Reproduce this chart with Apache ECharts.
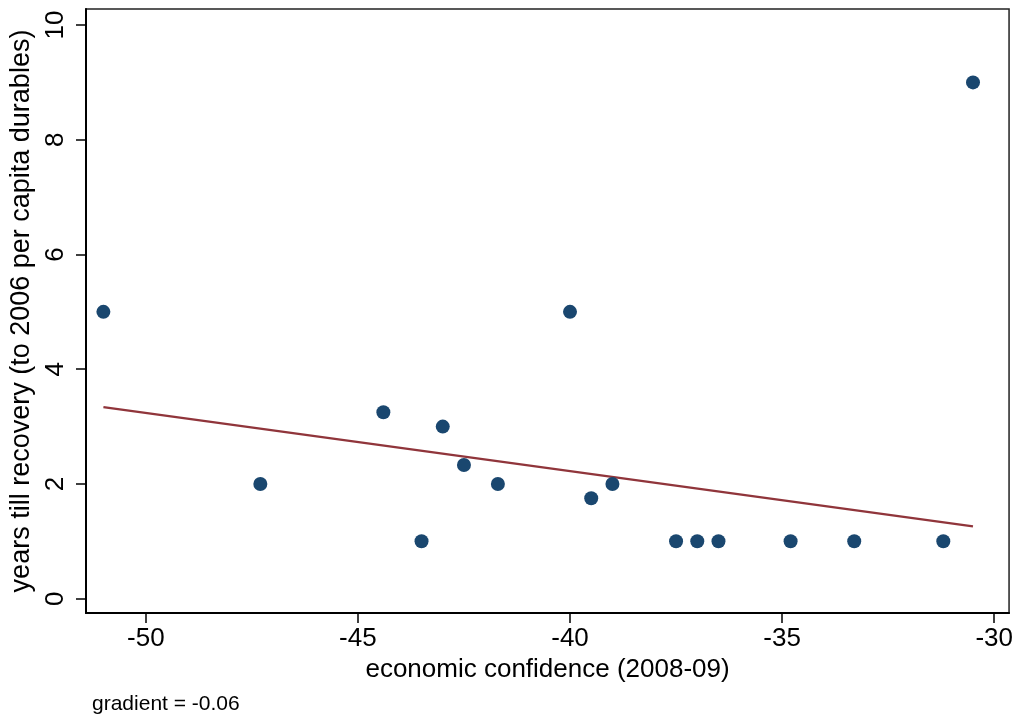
<!DOCTYPE html>
<html>
<head>
<meta charset="utf-8">
<script src="https://cdn.jsdelivr.net/npm/echarts@6/dist/echarts.min.js"></script>
<style>
html,body{margin:0;padding:0;background:#fff;}
#c{width:1016px;height:719px;}
</style>
</head>
<body>
<div id="c"></div>
<script>
// data
const confidence = [-51.0, -47.3, -44.4, -43.5, -43.0, -42.5, -41.7, -40.0, -39.5, -39.0, -37.5, -37.0, -36.5, -34.8, -33.3, -31.2, -30.5];
const yearsTillRecovery = [5, 2, 3.25, 1, 3, 2.33, 2, 5, 1.75, 2, 1, 1, 1, 1, 1, 1, 9];
const fitX = [-51.0, -30.5];
const fitY = [3.34, 1.26];
const xTicks = [-50, -45, -40, -35, -30];
const yTicks = [0, 2, 4, 6, 8, 10];
const xTitle = 'economic confidence (2008-09)';
const yTitle = 'years till recovery (to 2006 per capita durables)';
const note = 'gradient = -0.06';

const font = '"Liberation Sans", Arial, Helvetica, sans-serif';
const chart = echarts.init(document.getElementById('c'), null, {renderer: 'canvas'});
chart.setOption({
  backgroundColor: '#fff',
  animation: false,
  grid: {left: 86, top: 9, right: 6, bottom: 106, show: true, borderColor: '#222', borderWidth: 1.5, backgroundColor: '#fff'},
  xAxis: {
    type: 'value', min: -51.41, max: -29.65,
    splitLine: {show: false},
    axisLine: {show: true, onZero: false, lineStyle: {color: '#000', width: 2}},
    axisTick: {show: true, inside: false, length: 10, lineStyle: {color: '#000', width: 1.5}, customValues: xTicks},
    axisLabel: {customValues: xTicks, color: '#000', fontSize: 26, fontFamily: font, margin: 13},
    name: xTitle, nameLocation: 'middle', nameGap: 44,
    nameTextStyle: {color: '#000', fontSize: 26, fontFamily: font}
  },
  yAxis: {
    type: 'value', min: -0.25, max: 10.28,
    splitLine: {show: false},
    axisLine: {show: true, onZero: false, lineStyle: {color: '#000', width: 2}},
    axisTick: {show: true, inside: false, length: 10, lineStyle: {color: '#000', width: 1.5}, customValues: yTicks},
    axisLabel: {customValues: yTicks, color: '#000', fontSize: 26, fontFamily: font, rotate: 90, margin: 17},
    name: yTitle, nameLocation: 'middle', nameGap: 47, nameRotate: 90,
    nameTextStyle: {color: '#000', fontSize: 27, fontFamily: font}
  },
  graphic: [{
    type: 'text', left: 92, top: 694,
    style: {text: note, fontSize: 21, fontFamily: font, fill: '#000'}
  }],
  series: [
    {
      type: 'scatter', symbol: 'circle', symbolSize: 14,
      itemStyle: {color: '#1a476f', opacity: 1},
      data: confidence.map((x, i) => [x, yearsTillRecovery[i]]),
      z: 3
    },
    {
      type: 'line', symbol: 'none',
      lineStyle: {color: '#90353b', width: 2.2},
      data: fitX.map((x, i) => [x, fitY[i]]),
      z: 2
    }
  ]
});
</script>
</body>
</html>
